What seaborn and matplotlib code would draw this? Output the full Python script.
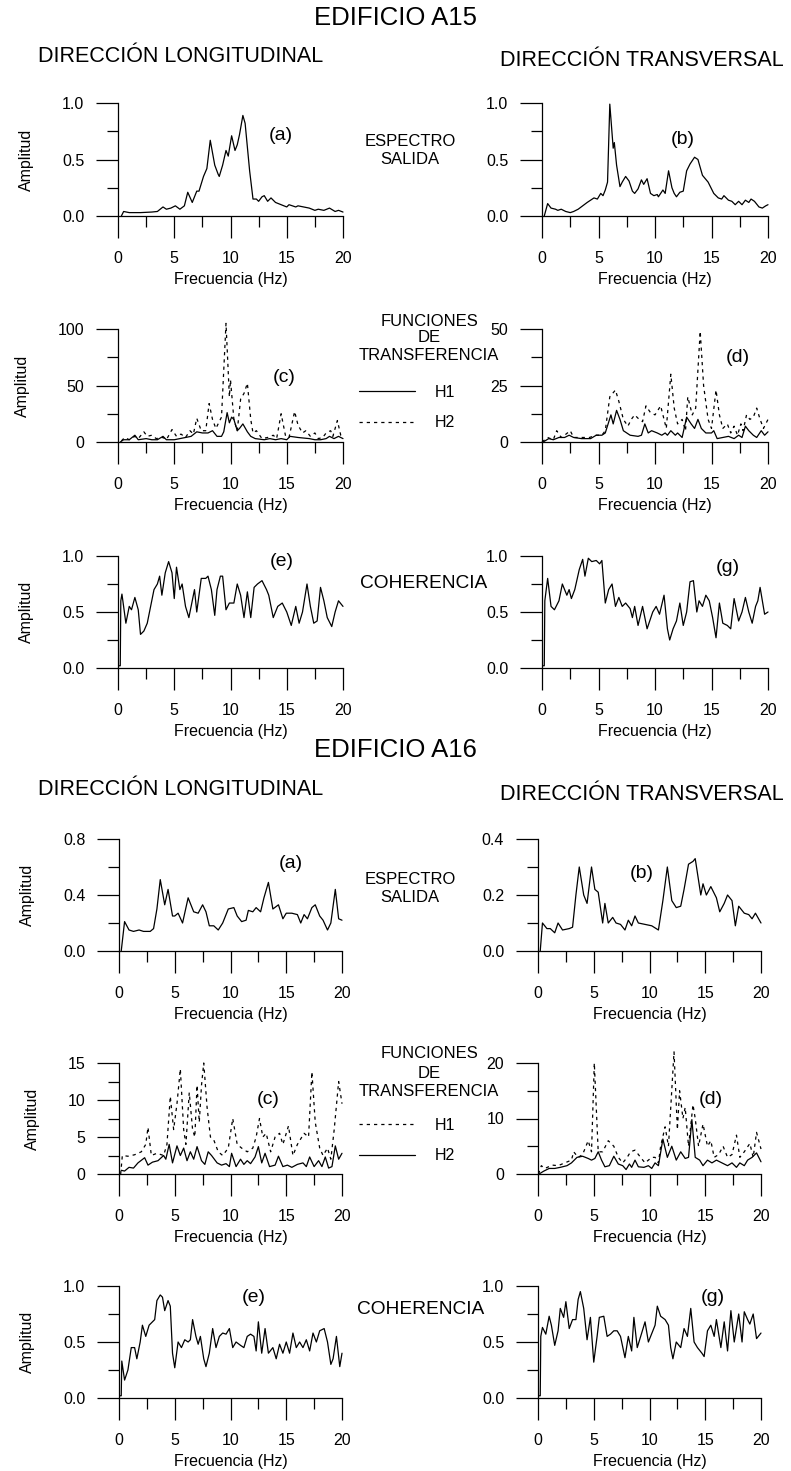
import matplotlib
matplotlib.use("Agg")
import matplotlib.pyplot as plt
import seaborn as sns
from matplotlib.ticker import MultipleLocator, FormatStrFormatter

# ---------------- DATA ----------------
# EDIFICIO A15
A15a_f = [0.3,0.5,1.0,2.0,3.0,3.5,4.0,4.3,4.7,5.1, 5.5,5.9,6.2,6.6,7.0,7.2,7.6,7.9,8.2,8.6,
          8.9,9.0,9.3,9.6,9.8,10.1,10.4,10.6,10.8,11.1, 11.3,11.7,12.0,12.3,12.5,12.8,13.0,13.3,13.6,14.0,
          14.5,15.0,15.2,15.8,16.0,16.5,17.0,17.5,17.8,18.3, 18.8,19.3,19.6,20.0]
A15a_y = [0.0,0.04,0.03,0.03,0.035,0.04,0.08,0.06,0.07,0.09, 0.06,0.09,0.21,0.12,0.22,0.22,0.35,0.42,0.67,0.45,
          0.37,0.35,0.45,0.58,0.53,0.71,0.58,0.63,0.72,0.89, 0.82,0.40,0.15,0.15,0.13,0.17,0.18,0.13,0.16,0.12,
          0.10,0.08,0.10,0.08,0.09,0.08,0.07,0.05,0.06,0.05, 0.07,0.04,0.05,0.035]

A15b_f = [0.2,0.5,0.8,1.2,1.4,1.7,2.1,2.5,2.8,3.2, 3.6,4.0,4.3,4.6,4.9,5.2,5.4,5.6,5.8,6.0,
          6.3,6.4,6.6,6.9,7.1,7.4,7.7,8.0,8.2,8.5, 8.8,9.0,9.3,9.6,9.9,10.2,10.3,10.7,10.9,11.2,
          11.5,11.7,11.9,12.2,12.5,12.8,13.1,13.5,13.8,14.2, 14.7,15.2,15.6,15.9,16.1,16.5,16.8,17.1,17.4,17.7,
          18.0,18.3,18.5,18.8,19.2,19.5,19.8,20.0]
A15b_y = [0.0,0.11,0.07,0.06,0.05,0.06,0.04,0.03,0.04,0.06, 0.09,0.12,0.14,0.16,0.15,0.20,0.18,0.23,0.30,0.99,
          0.60,0.65,0.45,0.26,0.30,0.35,0.31,0.22,0.20,0.24, 0.32,0.28,0.33,0.20,0.18,0.19,0.17,0.23,0.20,0.40,
          0.25,0.20,0.17,0.21,0.22,0.40,0.46,0.52,0.50,0.36, 0.30,0.20,0.16,0.15,0.18,0.14,0.13,0.10,0.13,0.10,
          0.14,0.12,0.15,0.13,0.08,0.07,0.09,0.10]

A15c_h1_f = [0.2,0.5,1.0,1.5,1.8,2.5,3.0,3.5,4.0,4.3, 5.0,5.5,6.0,6.5,7.0,7.5,8.0,8.4,8.8,9.2,
             9.4,9.7,9.9,10.1,10.3,10.6,10.8,11.1,11.5,11.8, 12.2,13.0,13.5,14.0,14.5,15.0,15.3,16.0,17.0,17.5,
             18.0,18.5,18.8,19.2,19.6,20.0]
A15c_h1_y = [0,2,2,6,2,3,2,2,5,2, 2,3,4,5,9,8,8,10,5,5,
             9,26,17,22,20,10,12,16,9,5, 3,2,3,2,3,2,5,4,3,2,
             2,3,5,3,5,3]
A15c_h2_f = [0.3,0.6,1.0,1.5,1.8,2.3,2.6,3.0,3.4,4.0, 4.3,4.8,5.2,5.6,6.0,6.4,6.7,7.0,7.4,7.8,
             8.1,8.4,8.7,9.2,9.6,9.9,10.0,10.3,10.6,10.9, 11.2,11.5,11.8,12.0,12.3,12.8,13.3,13.8,14.1,14.5,
             14.9,15.2,15.7,16.0,16.4,16.7,17.1,17.5,17.8,18.2, 18.5,18.9,19.1,19.5,19.8,20.0]
A15c_h2_y = [1,4,2,5,3,9,5,6,3,4, 2,11,5,7,4,10,7,21,10,10,
             34,20,12,22,105,40,55,20,10,38, 43,52,20,8,10,3,4,6,3,25,
             5,4,27,15,8,10,5,8,3,4, 8,10,5,19,6,7]

A15d_h1_f = [0.1,0.6,1.0,1.5,2.0,2.4,2.8,3.5,4.3,4.8, 5.3,5.6,6.1,6.3,6.6,6.9,7.2,7.5,7.8,8.5,
             8.8,9.1,9.4,9.7,10.2,10.6,10.9,11.1,11.4,11.8, 12.0,12.4,12.8,13.2,13.5,13.8,14.1,14.5,15.0,15.2,
             15.5,16.0,16.5,17.0,17.4,17.7,18.0,18.3,18.7,19.0, 19.4,19.7,20.0]
A15d_h1_y = [0,1.5,1,2,2,3,2,1.5,1.5,3, 3,4,12,8,14,10,5,4,3,2.5,
             3,8,4,5,4,3,4,3,5,3, 4,2,11,8,6,10,6,4,4,5,
             1.5,2,2.5,1.5,3,2,7,5,3,2, 5,3,4.5]
A15d_h2_f = [0.0,0.5,1.0,1.3,1.7,2.0,2.5,2.8,3.5,4.2, 4.8,5.3,5.6,6.0,6.5,6.8,7.2,7.6,7.9,8.2,
             8.6,8.9,9.2,9.6,10.0,10.5,10.8,11.0,11.4,11.7, 12.0,12.4,12.7,12.9,13.3,13.6,14.0,14.3,14.7,15.0,
             15.4,15.7,16.0,16.4,16.7,17.0,17.3,17.6,17.8,18.1, 18.4,18.7,19.0,19.3,19.6,20.0]
A15d_h2_y = [0,2,1,5,2,3,5,2,2,2, 3,3,5,20,23,18,10,7,10,12,
             10,9,16,13,12,16,10,6,30,15, 8,10,5,20,12,15,49,25,10,6,
             23,12,6,8,4,7,3,8,5,12, 10,11,15,10,6,10]

A15e_f = [0.05,0.2,0.25,0.35,0.7,1.0,1.2,1.5,1.8,2.0,2.3, 2.6,2.9,3.2,3.5,3.7,3.9,4.2,4.5,4.8,5.0,
          5.2,5.5,5.7,6.0,6.3,6.6,6.8,7.0,7.4,7.8, 8.0,8.3,8.6,8.8,9.1,9.3,9.6,9.9,10.3,10.6,
          10.9,11.2,11.5,11.8,12.1,12.4,12.8,13.2,13.4,13.8, 14.2,14.6,15.0,15.4,15.8,16.1,16.4,16.8,17.1,17.4,
          17.7,18.0,18.3,18.6,19.0,19.3,19.6,20.0]
A15e_y = [0.02,0.02,0.60,0.66,0.40,0.55,0.52,0.63,0.52,0.30,0.33, 0.40,0.55,0.70,0.75,0.82,0.65,0.85,0.95,0.85,0.62,
          0.90,0.70,0.75,0.55,0.45,0.60,0.70,0.50,0.80,0.80, 0.82,0.70,0.47,0.70,0.82,0.82,0.52,0.58,0.58,0.75,
          0.65,0.45,0.68,0.45,0.72,0.75,0.78,0.70,0.65,0.45, 0.55,0.58,0.50,0.38,0.55,0.40,0.50,0.75,0.55,0.40,
          0.42,0.72,0.60,0.45,0.37,0.50,0.60,0.55]

A15g_f = [0.1,0.2,0.25,0.5,0.8,1.1,1.5,1.8,2.2,2.4, 2.6,2.9,3.3,3.6,3.8,4.1,4.4,4.8,5.1,5.3,
          5.6,5.9,6.2,6.5,6.8,7.1,7.4,7.8,8.0,8.2, 8.5,8.9,9.3,9.8,10.1,10.4,10.8,11.1,11.3,11.6,
          11.9,12.2,12.5,12.8,13.1,13.4,13.7,13.9,14.2,14.5, 14.8,15.1,15.4,15.7,16.0,16.4,16.7,17.0,17.4,17.7,
          18.0,18.3,18.6,18.9,19.1,19.3,19.7,20.0]
A15g_y = [0.02,0.02,0.6,0.8,0.55,0.52,0.6,0.75,0.65,0.7, 0.62,0.7,0.88,0.97,0.82,0.98,0.95,0.96,0.93,0.96,
          0.58,0.7,0.75,0.55,0.63,0.55,0.58,0.53,0.45,0.55, 0.38,0.55,0.35,0.5,0.55,0.48,0.65,0.35,0.25,0.35,
          0.42,0.58,0.38,0.5,0.77,0.78,0.5,0.6,0.55,0.65, 0.6,0.45,0.27,0.58,0.4,0.38,0.35,0.62,0.42,0.5,
          0.63,0.5,0.4,0.55,0.6,0.72,0.48,0.5]

# EDIFICIO A16
A16a_f = [0.2,0.5,0.9,1.3,1.8,2.2,2.8,3.1,3.4,3.7, 4.1,4.4,4.8,5.0,5.3,5.7,6.2,6.7,7.1,7.5,
          7.8,8.1,8.5,8.9,9.3,9.8,10.3,10.6,11.0,11.4, 11.6,12.0,12.3,12.7,13.0,13.4,13.8,14.3,14.7,15.0,
          15.5,16.0,16.3,16.6,16.9,17.3,17.6,18.0,18.3,18.7, 19.0,19.4,19.7,20.0]
A16a_y = [0.0,0.21,0.15,0.14,0.15,0.14,0.14,0.16,0.30,0.51, 0.33,0.44,0.25,0.25,0.27,0.20,0.38,0.28,0.27,0.33,
          0.28,0.18,0.18,0.15,0.20,0.30,0.31,0.25,0.21,0.22, 0.29,0.28,0.31,0.28,0.38,0.49,0.30,0.33,0.23,0.27,
          0.27,0.26,0.20,0.26,0.23,0.31,0.33,0.25,0.22,0.15, 0.20,0.44,0.23,0.22]

A16b_f = [0.2,0.4,0.8,1.1,1.5,1.8,2.2,2.8,3.1,3.4, 3.7,4.1,4.4,4.8,5.1,5.4,5.8,6.0,6.3,6.7,
          7.0,7.4,7.8,8.1,8.4,8.7,9.0,9.6,10.2,10.8, 11.2,11.6,12.0,12.4,12.8,13.1,13.5,13.9,14.1,14.6,
          14.8,15.1,15.5,16.0,16.3,16.7,17.0,17.4,17.7,18.0, 18.5,18.9,19.2,19.5,20.0]
A16b_y = [0.0,0.10,0.08,0.08,0.065,0.10,0.075,0.08,0.085,0.20, 0.30,0.20,0.17,0.30,0.22,0.21,0.10,0.17,0.10,0.12,
          0.10,0.095,0.075,0.11,0.09,0.125,0.10,0.095,0.09,0.075, 0.18,0.30,0.18,0.155,0.16,0.22,0.31,0.32,0.33,0.20,
          0.24,0.20,0.23,0.19,0.14,0.17,0.20,0.18,0.09,0.16, 0.135,0.13,0.115,0.135,0.10]

A16c_h1_f = [0.15,0.3,0.8,1.4,2.0,2.4,2.6,2.9,3.4,4.0, 4.3,4.6,4.9,5.2,5.5,5.8,6.0,6.3,6.6,6.8,
             7.0,7.2,7.4,7.6,7.9,8.2,8.5,8.9,9.3,9.8, 10.2,10.6,11.0,11.5,12.0,12.3,12.6,12.9,13.2,13.6,
             14.0,14.4,14.7,15.2,15.6,16.0,16.6,17.0,17.3,17.6, 18.0,18.3,18.7,19.0,19.3,19.7,20.0]
A16c_h1_y = [0.0,2.5,2.4,2.6,3.0,4.0,6.3,2.5,2.8,2.5, 4.0,10.5,6.0,9.5,14.2,6.0,4.0,11.0,6.0,5.0,
             12.0,7.0,12.0,15.0,9.0,5.0,4.6,3.0,2.5,3.5, 7.5,4.0,3.5,3.0,3.5,5.0,7.5,5.0,5.5,3.0,
             5.0,5.5,4.0,6.5,2.5,4.0,5.5,5.0,13.8,7.0, 3.5,2.5,3.5,2.0,6.0,12.5,9.5]
A16c_h2_f = [0.2,0.5,0.9,1.3,1.7,2.3,2.6,3.0,3.5,4.0, 4.2,4.5,4.8,5.2,5.5,5.8,6.1,6.4,6.7,7.0,
             7.4,7.7,8.0,8.3,8.8,9.2,9.6,9.9,10.1,10.5, 10.9,11.2,11.5,11.8,12.2,12.5,12.8,13.1,13.5,14.0,
             14.3,14.7,15.1,15.5,16.0,16.5,16.8,17.1,17.5,17.9, 18.2,18.5,18.8,19.1,19.4,19.7,20.0]
A16c_h2_y = [0.5,0.4,0.9,0.8,1.5,2.2,1.2,1.6,1.8,2.5, 2.0,4.0,1.5,3.8,2.5,3.5,1.8,3.0,2.0,3.7,
             1.8,1.3,3.0,2.5,1.5,1.2,1.4,1.0,2.8,1.0, 2.0,1.3,1.8,1.4,2.3,3.7,1.5,2.8,1.0,1.2,
             2.4,1.0,1.2,0.9,1.3,1.5,1.0,2.3,1.0,1.8, 1.0,2.3,0.8,1.0,3.8,2.0,2.8]

A16d_h1_f = [0.05,0.3,0.6,1.3,1.8,2.4,3.0,3.2,3.6,4.0, 4.5,4.8,5.05,5.4,5.8,6.3,6.8,7.2,7.6,8.0,
             8.3,8.7,9.2,9.6,10.2,10.5,10.8,11.0,11.4,11.7, 12.2,12.5,12.7,13.0,13.2,13.5,13.9,14.1,14.4,14.8,
             15.2,15.5,15.8,16.2,16.6,17.0,17.4,17.8,18.1,18.5, 19.0,19.3,19.6,20.0]
A16d_h1_y = [0,1.5,1,1.6,1.5,2,2.5,4,3,3.5, 6,4,20,4,4,6,5,3,2,3,
             4,4.3,3,2,3,3,2,5,8.5,5, 22,8,15,10,12,5,12.5,10,5,9,
             5,6,3,3.5,5,3,3.5,7,3,4, 5.5,3,7.5,4.5]
A16d_h2_f = [0.1,0.5,1.0,1.5,2.0,2.6,3.0,3.5,4.0,4.5, 4.8,5.1,5.4,5.7,6.0,6.4,6.8,7.2,7.6,7.9,
             8.2,8.4,8.7,9.0,9.5,9.9,10.2,10.5,10.8,11.2, 11.6,12.0,12.4,12.8,13.2,13.5,13.8,14.1,14.5,14.8,
             15.2,15.6,16.0,16.5,17.0,17.4,17.8,18.1,18.5,18.8, 19.2,19.6,20.0]
A16d_h2_y = [0,0.5,1,1,1.2,1.5,2,3,3.2,2.8, 2.5,2.8,4,2.5,1.3,1.5,3.2,1.8,1.5,0.8,
             1.8,1.2,2.5,1.3,1.2,1.5,1,2,1.5,6.3, 3,5,2.5,4,2.8,3,9.8,3,2.5,1.5,
             2.5,2,2.5,2,1.5,2,1.2,2,1.5,2.5, 3,3.8,2.2]

A16e_f = [0.1,0.2,0.25,0.5,0.8,1.1,1.4,1.6,1.9,2.1, 2.4,2.7,3.0,3.2,3.4,3.7,3.9,4.1,4.4,4.6,
          4.8,5.0,5.3,5.6,5.9,6.2,6.4,6.6,6.9,7.1, 7.3,7.6,7.8,8.1,8.4,8.7,9.0,9.3,9.6,9.9,
          10.2,10.5,10.9,11.2,11.5,11.8,12.1,12.3,12.5,12.8, 13.1,13.4,13.8,14.1,14.4,14.7,15.0,15.3,15.6,15.9,
          16.2,16.5,16.8,17.1,17.4,17.7,18.0,18.4,18.7,19.0, 19.2,19.5,19.8,20.0]
A16e_y = [0.02,0.02,0.33,0.16,0.25,0.45,0.45,0.35,0.5,0.65, 0.55,0.65,0.68,0.7,0.87,0.92,0.9,0.78,0.87,0.82,
          0.4,0.27,0.5,0.45,0.52,0.5,0.52,0.7,0.55,0.48, 0.55,0.35,0.28,0.4,0.62,0.45,0.55,0.58,0.57,0.62,
          0.45,0.5,0.47,0.45,0.55,0.57,0.55,0.42,0.68,0.4, 0.62,0.4,0.45,0.35,0.48,0.4,0.5,0.4,0.58,0.45,
          0.5,0.45,0.52,0.42,0.58,0.5,0.6,0.62,0.5,0.3, 0.35,0.55,0.28,0.4]

A16g_f = [0.1,0.2,0.25,0.4,0.7,1.0,1.2,1.5,1.8,2.0, 2.3,2.5,2.8,3.1,3.4,3.6,3.8,4.1,4.4,4.7,
          5.0,5.3,5.5,5.9,6.2,6.5,6.8,7.1,7.4,7.8, 8.1,8.4,8.6,8.9,9.3,9.6,9.9,10.3,10.5,10.7,
          11.0,11.4,11.7,11.9,12.1,12.4,12.8,13.1,13.4,13.7, 14.0,14.3,14.7,14.9,15.2,15.5,15.8,16.0,16.4,16.7,
          17.0,17.3,17.6,18.0,18.3,18.5,18.8,19.0,19.3,19.6, 20.0]
A16g_y = [0.02,0.02,0.55,0.63,0.57,0.73,0.65,0.47,0.6,0.8, 0.72,0.86,0.62,0.7,0.7,0.88,0.95,0.8,0.52,0.72,
          0.32,0.55,0.72,0.73,0.55,0.57,0.6,0.6,0.55,0.36, 0.55,0.42,0.72,0.45,0.58,0.68,0.5,0.6,0.65,0.82,
          0.73,0.7,0.65,0.45,0.35,0.5,0.45,0.62,0.55,0.8, 0.5,0.45,0.4,0.37,0.6,0.65,0.55,0.7,0.45,0.68,
          0.42,0.78,0.5,0.75,0.5,0.77,0.7,0.66,0.75,0.53, 0.58]

X_TICKS = [0, 5, 10, 15, 20]

# ---------------- FIGURE ----------------
sns.set_style("ticks")
plt.rcParams['font.family'] = ['Liberation Sans', 'DejaVu Sans']
plt.rcParams.update({
    'axes.linewidth': 0.9,
    'text.color': 'black',
    'axes.labelcolor': 'black',
    'xtick.color': 'black',
    'ytick.color': 'black',
    'axes.edgecolor': 'black',
})

W, H = 791, 1471
fig = plt.figure(figsize=(W / 100, H / 100), dpi=100)

SOLID = '-'
DOTTED = (0, (2.6, 3.2))
TICK_LEN = 15.8   # points (~22 px)


def add_ax(x0, x1, ytop, ybot):
    return fig.add_axes([x0 / W, 1 - ybot / H, (x1 - x0) / W, (ybot - ytop) / H])


def style(ax, ymax, ymaj, ymin, fmt, ylabel):
    ax.set_xlim(0, 20)
    ax.set_ylim(0, ymax)
    ax.set_xticks(X_TICKS)
    ax.xaxis.set_minor_locator(MultipleLocator(2.5))
    ax.yaxis.set_major_locator(MultipleLocator(ymaj))
    ax.yaxis.set_minor_locator(MultipleLocator(ymin))
    ax.yaxis.set_major_formatter(FormatStrFormatter(fmt))
    for s in ['top', 'right']:
        ax.spines[s].set_visible(False)
    for s in ['left', 'bottom']:
        ax.spines[s].set_color('black')
    ax.tick_params(which='major', direction='out', length=TICK_LEN, width=0.9,
                   labelsize=11.5, colors='black')
    ax.tick_params(axis='x', which='major', pad=9.5)
    ax.tick_params(axis='y', which='major', pad=8.5)
    ax.tick_params(which='minor', direction='out', length=TICK_LEN / 2, width=0.9,
                   colors='black')
    ax.set_xlabel('Frecuencia (Hz)', fontsize=11.5, labelpad=4, color='black')
    if ylabel:
        ax.set_ylabel('Amplitud', fontsize=11.5, labelpad=20, color='black')
    else:
        ax.set_ylabel('')
    ax.grid(False)


def line(ax, f, y, ls):
    sns.lineplot(x=f, y=y, ax=ax, color='black', linewidth=0.9, linestyle=ls,
                 estimator=None, sort=False, clip_on=False)


def ftext(x, y, s, size, **kw):
    fig.text(x / W, 1 - y / H, s, fontsize=size, ha='center', va='center',
             color='black', **kw)


# column geometry (pixels)
L15 = (118, 343)
R15 = (542, 768)
L16 = (119, 342)
R16 = (538, 761)

rows = {
    'A15_1': (103, 216), 'A15_2': (329, 442), 'A15_3': (556, 668),
    'A16_1': (839, 951), 'A16_2': (1063, 1174), 'A16_3': (1286, 1398),
}

# ---- A15 ----
ax = add_ax(*L15, *rows['A15_1']); line(ax, A15a_f, A15a_y, SOLID)
style(ax, 1.0, 0.5, 0.25, '%.1f', True)
ax = add_ax(*R15, *rows['A15_1']); line(ax, A15b_f, A15b_y, SOLID)
style(ax, 1.0, 0.5, 0.25, '%.1f', False)

ax15c = add_ax(*L15, *rows['A15_2'])
line(ax15c, A15c_h2_f, A15c_h2_y, DOTTED)
line(ax15c, A15c_h1_f, A15c_h1_y, SOLID)
style(ax15c, 100, 50, 25, '%d', True)
ax = add_ax(*R15, *rows['A15_2'])
line(ax, A15d_h2_f, A15d_h2_y, DOTTED)
line(ax, A15d_h1_f, A15d_h1_y, SOLID)
style(ax, 50, 25, 12.5, '%d', False)

ax = add_ax(*L15, *rows['A15_3']); line(ax, A15e_f, A15e_y, SOLID)
style(ax, 1.0, 0.5, 0.25, '%.1f', True)
ax = add_ax(*R15, *rows['A15_3']); line(ax, A15g_f, A15g_y, SOLID)
style(ax, 1.0, 0.5, 0.25, '%.1f', False)

# ---- A16 ----
ax = add_ax(*L16, *rows['A16_1']); line(ax, A16a_f, A16a_y, SOLID)
style(ax, 0.8, 0.4, 0.2, '%.1f', True)
ax = add_ax(*R16, *rows['A16_1']); line(ax, A16b_f, A16b_y, SOLID)
style(ax, 0.4, 0.2, 0.1, '%.1f', False)

ax16c = add_ax(*L16, *rows['A16_2'])
line(ax16c, A16c_h1_f, A16c_h1_y, DOTTED)
line(ax16c, A16c_h2_f, A16c_h2_y, SOLID)
style(ax16c, 15, 5, 2.5, '%d', True)
ax = add_ax(*R16, *rows['A16_2'])
line(ax, A16d_h1_f, A16d_h1_y, DOTTED)
line(ax, A16d_h2_f, A16d_h2_y, SOLID)
style(ax, 20, 10, 5, '%d', False)

ax = add_ax(*L16, *rows['A16_3']); line(ax, A16e_f, A16e_y, SOLID)
style(ax, 1.0, 0.5, 0.25, '%.1f', True)
ax = add_ax(*R16, *rows['A16_3']); line(ax, A16g_f, A16g_y, SOLID)
style(ax, 1.0, 0.5, 0.25, '%.1f', False)

# ---- Legends ----
h15_solid, h15_dot = ax15c.lines[1], ax15c.lines[0]
fig.legend([h15_solid, h15_dot], ['H1', 'H2'], loc='upper left',
           bbox_to_anchor=(359 / W, 1 - 385 / H), frameon=False, fontsize=11.5,
           handlelength=3.5, handletextpad=1.25, labelspacing=0.95,
           borderpad=0, borderaxespad=0, labelcolor='black')
h16_dot, h16_solid = ax16c.lines[0], ax16c.lines[1]
fig.legend([h16_dot, h16_solid], ['H1', 'H2'], loc='upper left',
           bbox_to_anchor=(359 / W, 1 - 1118 / H), frameon=False, fontsize=11.5,
           handlelength=3.5, handletextpad=1.25, labelspacing=0.95,
           borderpad=0, borderaxespad=0, labelcolor='black')

# ---- Texts ----
ftext(395, 18, 'EDIFICIO A15', 18.5)
ftext(181, 57, 'DIRECCIÓN LONGITUDINAL', 15.5)
ftext(642, 61, 'DIRECCIÓN TRANSVERSAL', 15.5)
ftext(410, 141, 'ESPECTRO', 12)
ftext(410, 159, 'SALIDA', 12)
ftext(429, 321, 'FUNCIONES', 12)
ftext(429, 338, 'DE', 12)
ftext(429, 356, 'TRANSFERENCIA', 12)
ftext(424, 583, 'COHERENCIA', 13.8)
ftext(281, 135, '(a)', 14)
ftext(683, 139, '(b)', 14)
ftext(284, 378, '(c)', 14)
ftext(738, 358, '(d)', 14)
ftext(282, 561, '(e)', 14)
ftext(728, 568, '(g)', 14)

ftext(395, 750, 'EDIFICIO A16', 18.5)
ftext(181, 790, 'DIRECCIÓN LONGITUDINAL', 15.5)
ftext(642, 795, 'DIRECCIÓN TRANSVERSAL', 15.5)
ftext(410, 879, 'ESPECTRO', 12)
ftext(410, 897, 'SALIDA', 12)
ftext(429, 1054, 'FUNCIONES', 12)
ftext(429, 1073, 'DE', 12)
ftext(429, 1092, 'TRANSFERENCIA', 12)
ftext(421, 1310, 'COHERENCIA', 13.8)
ftext(291, 864, '(a)', 14)
ftext(642, 874, '(b)', 14)
ftext(268, 1100, '(c)', 14)
ftext(711, 1100, '(d)', 14)
ftext(254, 1298, '(e)', 14)
ftext(713, 1297, '(g)', 14)

fig.savefig('out.png', dpi=100)
